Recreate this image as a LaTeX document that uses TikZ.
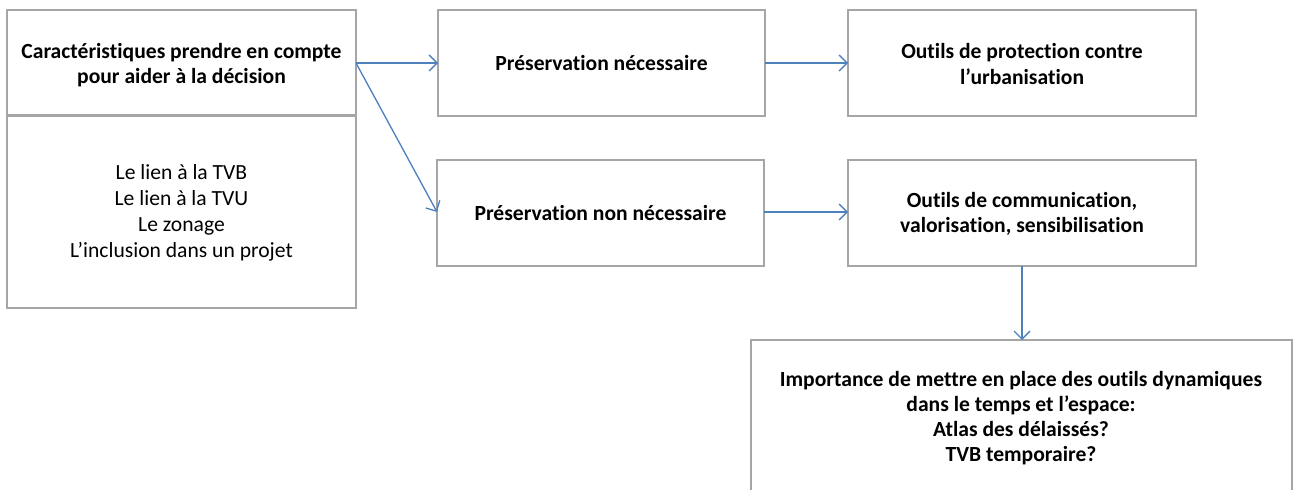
\documentclass[tikz,border=0pt]{standalone}
\usepackage{fontspec}
\setmainfont{Carlito}[Ligatures={NoCommon}]
\usetikzlibrary{arrows.meta}
\definecolor{boxgray}{HTML}{A6A6A6}
\definecolor{arrowblue}{HTML}{4F81BD}
\tikzset{
  boxrect/.style={draw=boxgray, line width=1.5pt},
  boxtext/.style={align=center, font=\fontsize{16.2pt}{18.8pt}\selectfont\bfseries},
  plaintext/.style={align=center, font=\fontsize{16.2pt}{19.6pt}\selectfont},
  link/.style={draw=arrowblue, line width=1pt, -{Straight Barb[length=6pt,width=12pt,line width=1pt]}},
}
\begin{document}
\begin{tikzpicture}[x=0.75pt,y=-0.75pt]
\useasboundingbox (0,0) rectangle (1298,489);
\clip (0,0) rectangle (1298,489);
% boxes
\draw[boxrect] (7,10) rectangle (356,115);
\draw[boxrect] (7,116) rectangle (356,308);
\draw[boxrect] (438,10) rectangle (765,116);
\draw[boxrect] (437,160) rectangle (764,266);
\draw[boxrect] (848,10) rectangle (1196,116);
\draw[boxrect] (848,160) rectangle (1196,266);
\draw[boxrect] (751,340) rectangle (1292,520);
% nodes
\node[boxtext] (a) at (181.5,65) {Caractéristiques prendre en compte\\pour aider à la décision};
\node[plaintext] (b) at (181.5,213) {Le lien à la TVB\\Le lien à la TVU\\Le zonage\\L’inclusion dans un projet};
\node[boxtext] (p1) at (601.5,63) {Préservation nécessaire};
\node[boxtext] (p2) at (600.5,213) {Préservation non nécessaire};
\node[boxtext] (o1) at (1022,64) {Outils de protection contre\\l’urbanisation};
\node[boxtext] (o2) at (1022,214) {Outils de communication,\\valorisation, sensibilisation};
\node[boxtext] (imp) at (1021,418) {Importance de mettre en place des outils dynamiques\\dans le temps et l’espace:\\Atlas des délaissés?\\TVB temporaire?};
% anchor coordinates
\coordinate (aR) at (356,63);
\coordinate (p1L) at (438,63);
\coordinate (p2L) at (437,212);
\coordinate (p1R) at (765,63);
\coordinate (o1L) at (848,63);
\coordinate (p2R) at (764,212);
\coordinate (o2L) at (848,212);
\coordinate (o2B) at (1022,266);
\coordinate (impT) at (1022,340);
% connectors
\draw[link] (aR) -- (p1L);
\draw[link] (aR) -- (p2L);
\draw[link] (p1R) -- (o1L);
\draw[link] (p2R) -- (o2L);
\draw[link] (o2B) -- (impT);
\end{tikzpicture}
\end{document}
